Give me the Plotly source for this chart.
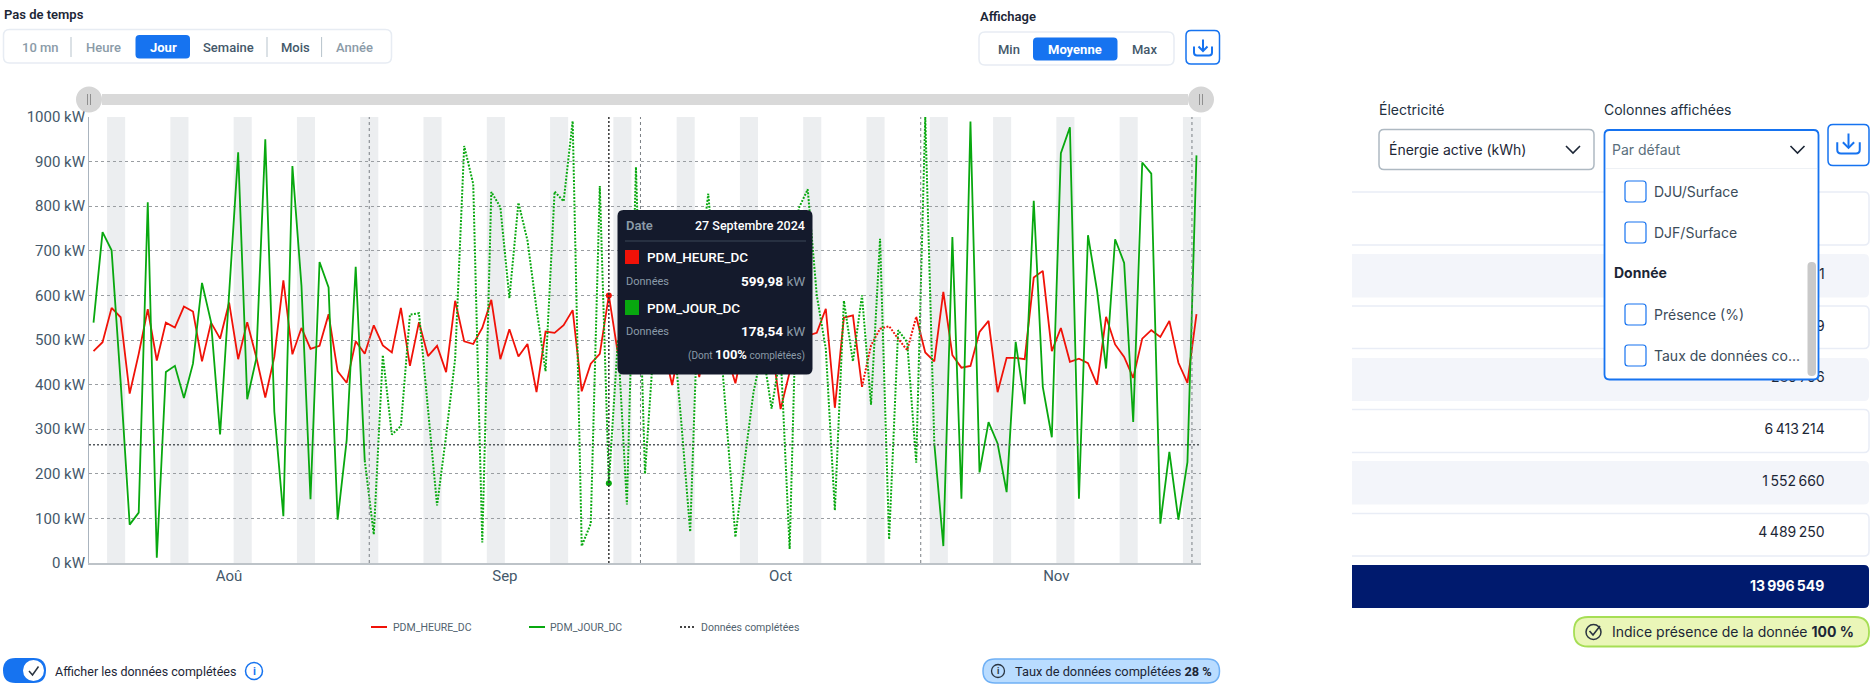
import pandas as pd
import plotly.graph_objects as go

# Daily averages, kW
START_DATE = "2024-08-01"
PDM_HEURE_DC = [
    475, 495, 572, 551, 380, 469, 569, 454, 539, 528,
    575, 564, 452, 539, 503, 584, 457, 540, 462, 371,
    462, 634, 468, 527, 480, 487, 558, 430, 404, 497,
    469, 533, 488, 472, 572, 442, 540, 464, 487, 428,
    588, 497, 491, 527, 590, 457, 524, 463, 491, 383,
    519, 516, 533, 567, 385, 447, 469, 599.98, 470, 510,
    545, 480, 520, 490, 399, 500, 530, 417, 520, 490,
    470, 403, 500, 470, 510, 490, 345, 428, 500, 510,
    516, 570, 348, 550, 555, 395, 488, 525, 531, 503,
    477, 552, 472, 452, 608, 466, 438, 442, 518, 543,
    383, 460, 460, 457, 640, 655, 475, 527, 451, 458,
    448, 400, 552, 490, 462, 415, 503, 522, 507, 543,
    449, 404, 558,
]
PDM_JOUR_DC = [
    539, 742, 701, 406, 86, 113, 809, 12, 428, 442,
    370, 447, 628, 540, 288, 600, 921, 367, 458, 950,
    339, 105, 890, 622, 143, 675, 618, 97, 275, 664,
    230, 64, 466, 288, 307, 557, 560, 345, 129, 286,
    458, 935, 850, 46, 832, 798, 594, 808, 723, 570,
    430, 833, 811, 991, 38, 88, 845, 178.54, 500, 131,
    888, 200, 500, 700, 550, 319, 70, 660, 828, 585,
    331, 58, 226, 383, 480, 346, 470, 31, 795, 838,
    600, 480, 118, 588, 452, 600, 355, 727, 53, 522,
    495, 225, 1000, 268, 38, 731, 144, 990, 203, 316,
    268, 159, 496, 356, 812, 395, 282, 919, 977, 144,
    735, 611, 436, 726, 673, 316, 898, 873, 88, 249,
    97, 226, 914,
]
# First and last day of the gap-filled stretch of each series
HEURE_FILLED = ("2024-10-25", "2024-10-31")
JOUR_FILLED = ("2024-08-31", "2024-11-02")
REFERENCE_KW = 265
HOVER_DAY = "2024-09-27"
MONTH_LABELS = ["Aoû", "Sep", "Oct", "Nov"]
MONTH_TICKS = ["2024-08-16", "2024-09-15 12:00", "2024-10-16", "2024-11-15 12:00"]
MONTH_ENDS = ["2024-08-31 12:00", "2024-09-30 12:00", "2024-10-31 12:00", "2024-11-30 12:00"]
Y_TICKS = list(range(0, 1001, 100))
Y_LABELS = [f"{v} kW" for v in Y_TICKS]

TABLE_VALUES = ["1", "9", "289\u2009796", "6\u2009413\u2009214", "1\u2009552\u2009660", "4\u2009489\u2009250"]
TOTAL_VALUE = "13\u2009996\u2009549"

RED = "#F01208"
GREEN = "#08A80F"
BLUE = "#1673F0"
INK = "#1C2636"
SLATE = "#44586A"
MUTED = "#8B9BA8"
FONT = "Inter"
CHART_FONT = "Roboto"
W, H = 1873, 688

dates = pd.date_range(START_DATE, periods=len(PDM_HEURE_DC), freq="D")


def split_series(values, filled):
    """Return the measured and the gap-filled parts, sharing their end points."""
    lo, hi = pd.Timestamp(filled[0]), pd.Timestamp(filled[1])
    measured = [None if lo < d < hi else v for d, v in zip(dates, values)]
    completed = [v if lo <= d <= hi else None for d, v in zip(dates, values)]
    return measured, completed


fig = go.Figure()
for name, values, filled, color in [
    ("PDM_HEURE_DC", PDM_HEURE_DC, HEURE_FILLED, RED),
    ("PDM_JOUR_DC", PDM_JOUR_DC, JOUR_FILLED, GREEN),
]:
    measured, completed = split_series(values, filled)
    fig.add_trace(go.Scatter(x=dates, y=completed, mode="lines", name=name + " complété",
                             line=dict(color=color, width=2, dash="1.9px,1.5px"), showlegend=False))
    fig.add_trace(go.Scatter(x=dates, y=measured, mode="lines", name=name,
                             line=dict(color=color, width=1.8), showlegend=False))

hover_idx = list(dates).index(pd.Timestamp(HOVER_DAY))
fig.add_trace(go.Scatter(
    x=[HOVER_DAY, HOVER_DAY],
    y=[PDM_HEURE_DC[hover_idx], PDM_JOUR_DC[hover_idx]],
    mode="markers", marker=dict(size=6, color=[RED, GREEN]), showlegend=False,
))

shapes = []
annotations = []

# Weekend bands
for d in dates:
    if d.dayofweek == 5:
        shapes.append(dict(type="rect", xref="x", yref="y",
                           x0=d - pd.Timedelta(hours=12), x1=d + pd.Timedelta(hours=36),
                           y0=0, y1=1000, fillcolor="#ECEEF0", line_width=0, layer="below"))
# Month boundaries
for m in MONTH_ENDS:
    shapes.append(dict(type="line", xref="x", yref="y", x0=m, x1=m, y0=0, y1=1000,
                       line=dict(color="#7A7F84", width=1, dash="3px,3px"), layer="above"))
# Reference level and hover cursor
shapes.append(dict(type="line", xref="x domain", yref="y", x0=0, x1=1,
                   y0=REFERENCE_KW, y1=REFERENCE_KW,
                   line=dict(color="#555A5E", width=1.5, dash="2px,2px"), layer="above"))
shapes.append(dict(type="line", xref="x", yref="y", x0=HOVER_DAY, x1=HOVER_DAY, y0=0, y1=1000,
                   line=dict(color="#333333", width=1.5, dash="2px,2px"), layer="above"))


def rounded(x0, y0, x1, y1, r):
    return (f"M{x0 + r},{y0} L{x1 - r},{y0} Q{x1},{y0} {x1},{y0 + r} L{x1},{y1 - r} "
            f"Q{x1},{y1} {x1 - r},{y1} L{x0 + r},{y1} Q{x0},{y1} {x0},{y1 - r} "
            f"L{x0},{y0 + r} Q{x0},{y0} {x0 + r},{y0} Z")


def box(x0, y0, x1, y1, r=0, fill="white", edge=None, lw=1, layer="above"):
    shapes.append(dict(type="path", xref="x2", yref="y2", path=rounded(x0, y0, x1, y1, r),
                       fillcolor=fill, line=dict(color=edge or "rgba(0,0,0,0)", width=lw if edge else 0),
                       layer=layer))


def stroke(points, color, lw=1.5, dash=None):
    path = "M" + " L".join(f"{x},{y}" for x, y in points)
    shapes.append(dict(type="path", xref="x2", yref="y2", path=path,
                       line=dict(color=color, width=lw, dash=dash), layer="above"))


def circle(cx, cy, r, fill="white", edge=None, lw=1):
    shapes.append(dict(type="circle", xref="x2", yref="y2", x0=cx - r, x1=cx + r, y0=cy - r, y1=cy + r,
                       fillcolor=fill, line=dict(color=edge or "rgba(0,0,0,0)", width=lw if edge else 0),
                       layer="above"))


def label(x, y, text, size=13, color=INK, weight=400, anchor="left", family=CHART_FONT):
    annotations.append(dict(xref="x2", yref="y2", x=x, y=y, text=text, showarrow=False,
                            xanchor=anchor, yanchor="middle", borderpad=0,
                            font=dict(family=family, size=size, color=color, weight=weight)))


def download_icon(cx, cy, s, color=BLUE):
    shapes.append(dict(type="path", xref="x2", yref="y2", layer="above",
                       path=(f"M{cx - 9 * s},{cy - 1 * s} L{cx - 9 * s},{cy + 5 * s} "
                             f"Q{cx - 9 * s},{cy + 8 * s} {cx - 6 * s},{cy + 8 * s} "
                             f"L{cx + 6 * s},{cy + 8 * s} Q{cx + 9 * s},{cy + 8 * s} {cx + 9 * s},{cy + 5 * s} "
                             f"L{cx + 9 * s},{cy - 1 * s}"),
                       line=dict(color=color, width=2)))
    stroke([(cx, cy - 8 * s), (cx, cy + 3.5 * s)], color, 2)
    stroke([(cx - 4.5 * s, cy - 1 * s), (cx, cy + 3.5 * s), (cx + 4.5 * s, cy - 1 * s)], color, 2)


# Range slider
box(102, 94, 1188, 105, 0, "#D9D9D9")
for cx in (89, 1201):
    circle(cx, 99.5, 13, "#D6D6D6")
    stroke([(cx - 1.5, 94), (cx - 1.5, 105)], "#8F8F8F", 1)
    stroke([(cx + 1.5, 94), (cx + 1.5, 105)], "#8F8F8F", 1)

# Time step selector
label(3, 14.5, "Pas de temps", 13, INK, 600)
box(3.5, 29.5, 391.5, 63, 6, "white", "#E7ECF3", 1.5)
box(135.5, 35, 190, 58.5, 4, BLUE)
for x in (71, 267, 321.6):
    stroke([(x, 37), (x, 57)], "#B7C3CC", 1)
for x, text, color, weight in [
    (40, "10 mn", MUTED, 500), (103, "Heure", MUTED, 500), (163, "Jour", "white", 700),
    (228.5, "Semaine", SLATE, 500), (295, "Mois", SLATE, 500), (354.5, "Année", MUTED, 500),
]:
    label(x, 47, text, 13, color, weight, "center")

# Aggregation selector
label(979, 16.5, "Affichage", 13, INK, 600)
box(979, 32, 1174, 65, 6, "white", "#E7ECF3", 1.5)
box(1033, 37.5, 1117.5, 60.5, 4, BLUE)
for x, text, color, weight in [
    (1009, "Min", SLATE, 500), (1075, "Moyenne", "white", 700), (1144, "Max", SLATE, 500),
]:
    label(x, 49, text, 13, color, weight, "center")
box(1186, 30.5, 1219.5, 64, 5, "white", BLUE, 1.5)
download_icon(1203, 47.5, 1)

# Legend
stroke([(371, 627), (387, 627)], RED, 2)
label(392, 627, "PDM_HEURE_DC", 10.5, "#52636F")
stroke([(529, 627), (545, 627)], GREEN, 2)
label(549, 627, "PDM_JOUR_DC", 10.5, "#52636F")
stroke([(680, 627), (696, 627)], "#444444", 2, "2px,2px")
label(700, 627, "Données complétées", 10.5, "#52636F")

# Toggle for the gap-filled data
box(3, 658, 46, 683, 12.5, BLUE)
circle(33.5, 670.5, 10.5, "white")
stroke([(29, 671), (32.5, 675), (38.5, 666.5)], "#2A3440", 1.5)
label(53.5, 671, "Afficher les données complétées", 12.5, INK, 400)
circle(254, 671, 8.5, "white", BLUE, 1.5)
label(254, 671, "i", 11, BLUE, 700, "center")

# Share of gap-filled data
box(983, 659, 1219.5, 683, 12, "#B9DCFF", "#6FB0F5", 1.5)
circle(998, 671, 6.5, "rgba(0,0,0,0)", "#2A3440", 1.3)
label(998, 671, "i", 9, "#2A3440", 700, "center")
label(1013.5, 671, "Taux de données complétées <b>28 %</b>", 12.8, INK, 400)

# Hover card
box(617.5, 210, 812.5, 374.5, 6, "#141A2C")
label(625, 225, "Date", 13, MUTED, 600)
label(806, 225, "27 Septembre 2024", 12.5, "white", 500, "right")
stroke([(625, 241), (806, 241)], "#3A4656", 1)
box(625, 250, 639, 264, 0, RED)
label(646, 257, "PDM_HEURE_DC", 13.5, "white", 500)
label(625, 281, "Données", 11, MUTED, 400)
label(806, 281, f'<b>{PDM_HEURE_DC[hover_idx]:.2f}'.replace(".", ",") + f'</b> <span style="color:{MUTED}">kW</span>',
      13.5, "white", 400, "right")
box(625, 300, 639, 315, 0, GREEN)
label(646, 308, "PDM_JOUR_DC", 13.5, "white", 500)
label(625, 331, "Données", 11, MUTED, 400)
label(806, 331, f'<b>{PDM_JOUR_DC[hover_idx]:.2f}'.replace(".", ",") + f'</b> <span style="color:{MUTED}">kW</span>',
      13.5, "white", 400, "right")
label(806, 354.5, f'(Dont <span style="color:white;font-size:13px"><b>100%</b></span> complétées)',
      10, MUTED, 400, "right")

# Table rows
RIGHT_VAL = 1824.7
row_spans = [(192, 245), (254, 297.5), (306, 348.5), (358, 401), (409.5, 452.5), (461, 504.5), (513.5, 556)]
for i, (y0, y1) in enumerate(row_spans):
    if i % 2:
        box(1340, y0, 1869, y1, 5, "#F3F5FA", layer="below")
    else:
        box(1340, y0, 1869, y1, 5, "white", "#E9EDF6", 1.5, layer="below")
box(1340, 565, 1869, 608, 5, "#001A6E", layer="below")
# The table scrolls under the left edge of its panel
box(1320, 185, 1352, 615, 0, "white", layer="below")
label(RIGHT_VAL, 585.5, TOTAL_VALUE, 14, "white", 700, "right", FONT)
row_text_y = [275, 327, 378, 430, 482, 533.5]
fig.add_trace(go.Scatter(
    x=[RIGHT_VAL] * len(TABLE_VALUES), y=row_text_y, text=TABLE_VALUES,
    mode="text", textposition="middle left", cliponaxis=False, showlegend=False,
    textfont=dict(family=FONT, size=14, color=INK), xaxis="x2", yaxis="y2",
))

# Selectors above the table
label(1378, 109.5, "Électricité", 14, "#22303F", 400, "left", FONT)
label(1603, 109.5, "Colonnes affichées", 14, "#22303F", 400, "left", FONT)
box(1379, 129.5, 1594, 169.5, 5, "white", "#AEB9C2", 1.5)
label(1387.5, 149, "Énergie active (kWh)", 14, INK, 400, "left", FONT)
stroke([(1566, 146), (1573, 153), (1580, 146)], INK, 1.6)

# Open column picker
box(1604.5, 130, 1818.5, 379.5, 5, "white", BLUE, 1.8)
label(1611, 149, "Par défaut", 14, "#5A6F7C", 400, "left", FONT)
stroke([(1790.5, 146), (1797.5, 153), (1804.5, 146)], INK, 1.6)
stroke([(1606, 168.5), (1817, 168.5)], "#EEF1F5", 1.2)
for y0, text in [(181, "DJU/Surface"), (222, "DJF/Surface"), (304, "Présence (%)"), (345, "Taux de données co...")]:
    box(1625, y0, 1646, y0 + 21, 3, "white", BLUE, 1.2)
    label(1652.5, y0 + 10, text, 14, "#3C4C5A", 400, "left", FONT)
label(1613, 272.5, "Donnée", 14, INK, 700, "left", FONT)
box(1807.5, 262, 1816, 376, 4, "#C9C9C9")
box(1828, 124.5, 1869, 165.5, 5, "white", BLUE, 1.5)
download_icon(1848.5, 143.5, 1.25)

# Data presence badge
box(1574, 617, 1869, 646.5, 14, "#EAF6B8", "#A6DE55", 1.8)
circle(1593.5, 632, 7.5, "rgba(0,0,0,0)", "#2A3440", 1.5)
stroke([(1589.5, 631), (1593, 635), (1600, 626)], "#2A3440", 1.6)
label(1611, 631.5, "Indice présence de la donnée <b>100 %</b>", 14, INK, 400, "left", FONT)

fig.update_layout(
    width=W, height=H, template="none", autosize=False,
    margin=dict(l=0, r=0, t=0, b=0, pad=0),
    paper_bgcolor="white", plot_bgcolor="rgba(0,0,0,0)",
    showlegend=False, shapes=shapes, annotations=annotations,
    font=dict(family=CHART_FONT),
    xaxis=dict(
        domain=[89 / W, 1201 / W], type="date",
        range=[dates[0] - pd.Timedelta(hours=12), dates[-1] + pd.Timedelta(hours=12)],
        tickvals=MONTH_TICKS, ticktext=MONTH_LABELS, showgrid=False, ticks="", zeroline=False,
        tickfont=dict(family=CHART_FONT, size=15, color=SLATE), ticklabelstandoff=-2,
        showline=True, linecolor="#BDC3C8", linewidth=2, anchor="y",
    ),
    yaxis=dict(
        domain=[(H - 563) / H, (H - 117) / H], range=[0, 1000],
        tickvals=Y_TICKS, ticktext=Y_LABELS, showgrid=True,
        gridcolor="#9A9EA2", griddash="3px,3px", gridwidth=1, ticks="", zeroline=False,
        tickfont=dict(family=CHART_FONT, size=15, color=SLATE),
        showline=True, linecolor="#AAB4BE", linewidth=1, anchor="x",
    ),
    xaxis2=dict(domain=[0, 1], range=[0, W], visible=False, fixedrange=True, anchor="y2"),
    yaxis2=dict(domain=[0, 1], range=[H, 0], visible=False, fixedrange=True, anchor="x2"),
)

fig.write_html("out.html", config={"displayModeBar": False})
